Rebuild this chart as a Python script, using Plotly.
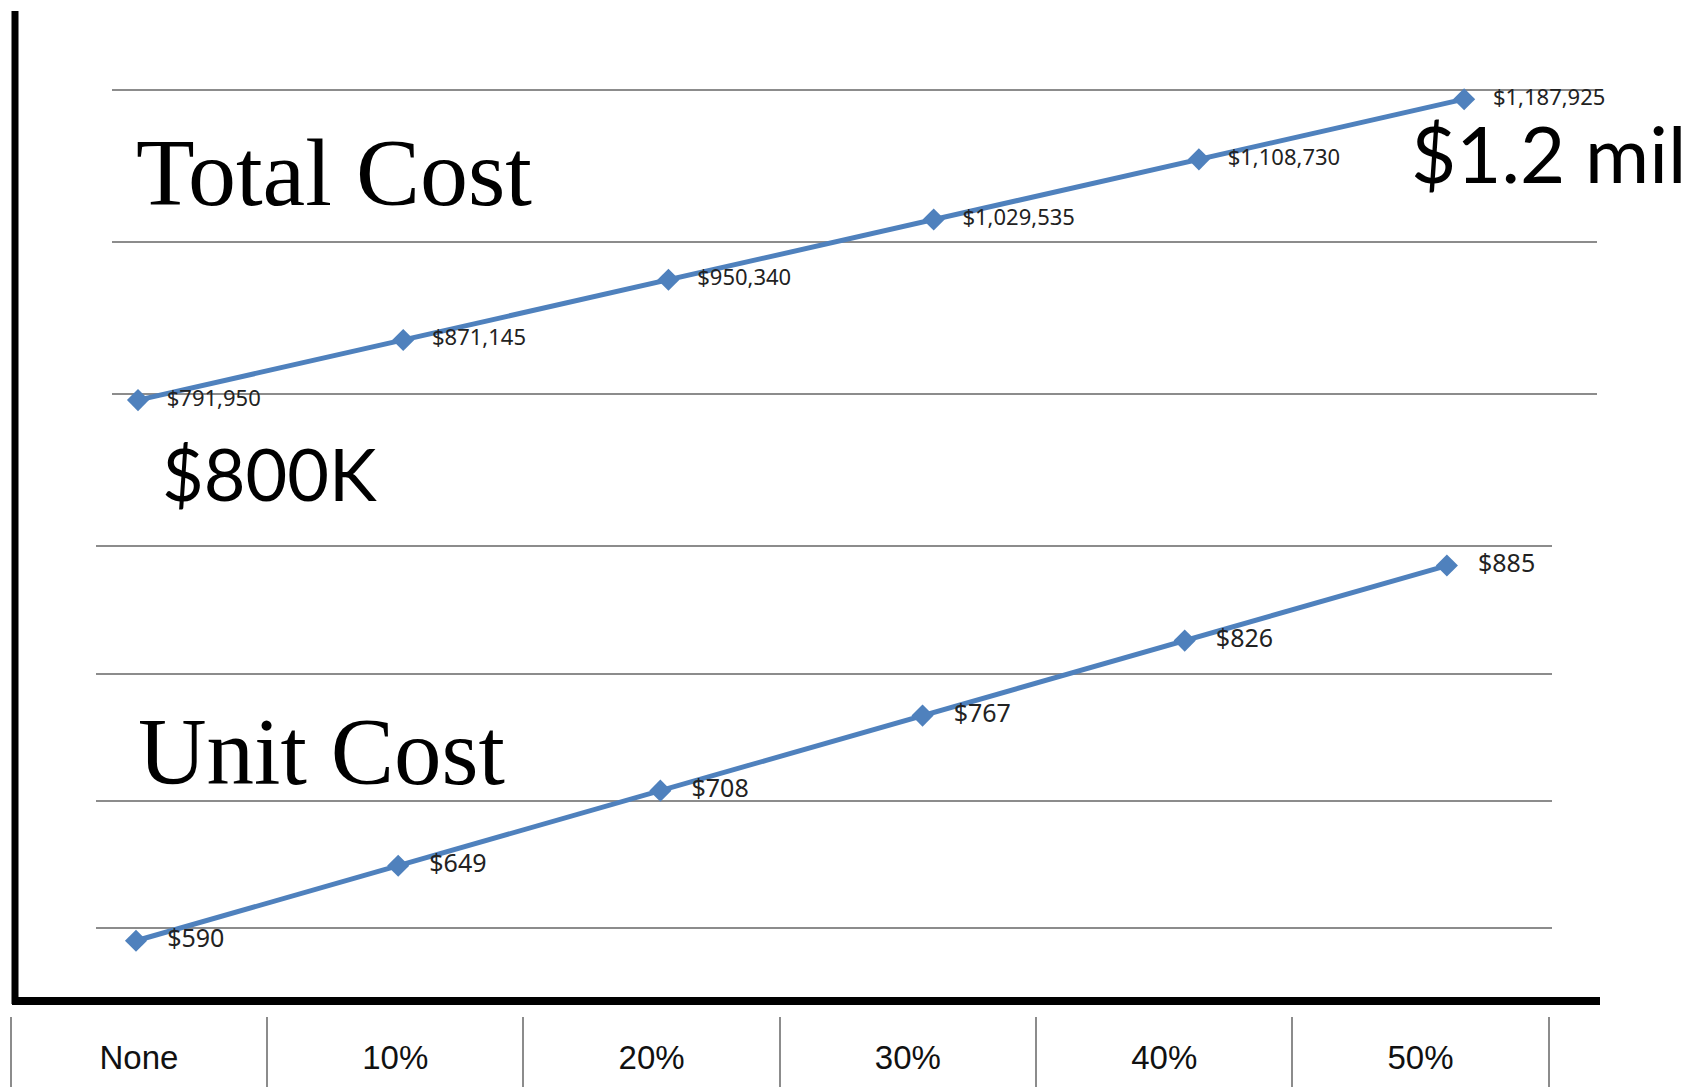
import plotly.graph_objects as go

categories = ["None", "10%", "20%", "30%", "40%", "50%"]
total_cost = [791950, 871145, 950340, 1029535, 1108730, 1187925]
unit_cost = [590, 649, 708, 767, 826, 885]

W, H = 1706, 1087
BLUE = "#4F81BD"
GRID = "#8C8C8C"

def px(x):
    return x / W

def py(y):
    return 1 - y / H

fig = go.Figure()

pad = "\u00a0\u00a0\u00a0"

fig.add_trace(go.Scatter(
    x=categories, y=total_cost, mode="lines+markers+text",
    line=dict(color=BLUE, width=5),
    marker=dict(symbol="diamond", size=17, color=BLUE),
    texttemplate=pad + "$%{y:,.0f}", textposition="middle right",
    textfont=dict(family="Noto Sans", size=22, color="#222"),
    cliponaxis=False, xaxis="x", yaxis="y", showlegend=False,
))

fig.add_trace(go.Scatter(
    x=categories, y=unit_cost, mode="lines+markers+text",
    line=dict(color=BLUE, width=5),
    marker=dict(symbol="diamond", size=17, color=BLUE),
    texttemplate=pad + "$%{y:,.0f}", textposition="middle right",
    textfont=dict(family="Noto Sans", size=25, color="#222"),
    cliponaxis=False, xaxis="x2", yaxis="y2", showlegend=False,
))

# category strip
fig.add_trace(go.Scatter(
    x=categories, y=[0.5] * len(categories), mode="markers",
    marker=dict(opacity=0), xaxis="x3", yaxis="y3", showlegend=False,
    hoverinfo="skip",
))

hidden_x = dict(showgrid=False, zeroline=False, showline=False,
                showticklabels=False, ticks="", type="category",
                categoryorder="array", categoryarray=categories)

fig.update_layout(
    width=W, height=H,
    margin=dict(l=0, r=0, t=0, b=0),
    paper_bgcolor="white", plot_bgcolor="rgba(0,0,0,0)",
    xaxis=dict(hidden_x, domain=[px(112), px(1597)], range=[-0.098, 5.501], anchor="y"),
    yaxis=dict(domain=[py(420), py(60)], range=[765789, 1239474], dtick=200000,
               tick0=0, showgrid=True, gridcolor=GRID, gridwidth=2,
               zeroline=False, showline=False, showticklabels=False, anchor="x"),
    xaxis2=dict(hidden_x, domain=[px(96), px(1551.5)], range=[-0.1526, 5.399], anchor="y2"),
    yaxis2=dict(domain=[py(970), py(520)], range=[567.0, 920.8], dtick=100,
                tick0=0, showgrid=True, gridcolor=GRID, gridwidth=2,
                zeroline=False, showline=False, showticklabels=False, anchor="x2"),
    xaxis3=dict(type="category", categoryorder="array", categoryarray=categories,
                domain=[px(5.7), px(1553.8)], range=[-0.52, 5.52], anchor="y3",
                tickson="boundaries", showgrid=True, gridcolor=GRID, gridwidth=2,
                ticks="", showline=False, zeroline=False,
                ticklabelposition="inside", ticklabelstandoff=8,
                tickfont=dict(family="Liberation Sans Narrow, Liberation Sans", size=33, color="#111")),
    yaxis3=dict(domain=[0, py(1017)], range=[0, 1], showgrid=False, zeroline=False,
                showline=False, showticklabels=False, anchor="x3", fixedrange=True),
    shapes=[
        dict(type="line", xref="paper", yref="paper", x0=px(15), x1=px(15),
             y0=py(11), y1=py(1004), line=dict(color="black", width=7)),
        dict(type="line", xref="paper", yref="paper", x0=px(12), x1=px(1600),
             y0=py(1001), y1=py(1001), line=dict(color="black", width=8)),
    ],
    annotations=[
        dict(text="Total Cost", xref="paper", yref="paper", x=px(134), y=py(173),
             xanchor="left", yanchor="middle", showarrow=False,
             font=dict(family="Liberation Serif", size=96, color="black")),
        dict(text="Unit Cost", xref="paper", yref="paper", x=px(136), y=py(752),
             xanchor="left", yanchor="middle", showarrow=False,
             font=dict(family="Liberation Serif", size=95, color="black")),
        dict(text="$800K", xref="paper", yref="paper", x=px(160), y=py(473),
             xanchor="left", yanchor="middle", showarrow=False,
             font=dict(family="Lato", size=72, color="black")),
        dict(text="$1.2 mil", xref="paper", yref="paper", x=px(1409), y=py(153),
             xanchor="left", yanchor="middle", showarrow=False,
             font=dict(family="Lato", size=78, color="black")),
    ],
)

fig.write_html(
    "out.html",
    config={"displayModeBar": False},
    post_script="document.body.style.margin='0';document.body.style.overflow='hidden';",
)
